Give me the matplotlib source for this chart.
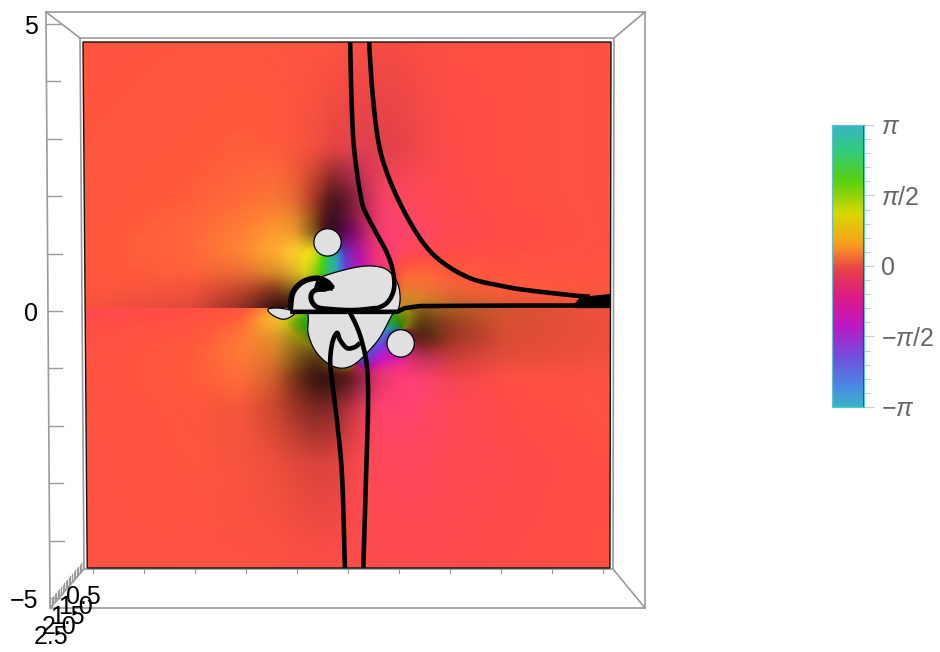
import numpy as np
import matplotlib
matplotlib.use("Agg")
import matplotlib.pyplot as plt
from matplotlib.colors import LinearSegmentedColormap
from matplotlib.patches import Polygon, Circle

plt.rcParams['font.family'] = ['Liberation Sans', 'DejaVu Sans']
plt.rcParams['mathtext.fontset'] = 'custom'
plt.rcParams['mathtext.rm'] = 'Liberation Sans'
plt.rcParams['mathtext.it'] = 'Liberation Sans:italic'

# ---------- data ----------
grid_x = [-5, -3, -2, -1.4, -1, -0.6, -0.3, 0, 0.3, 0.6, 1, 1.4, 2, 3, 5]
grid_y_upper = [5, 3, 2, 1.4, 1, 0.6, 0.3, -0.05]
grid_y_lower = [-0.06, -0.3, -0.6, -1, -1.4, -2, -3, -5]

# phase in units of pi
phase_upper = [
    [.03, .035, .035, .035, .03, .03, .03, .02, .01, .01, .01, .01, .01, .01, .02],
    [.035, .045, .055, .05, .04, .02, 0, -.02, -.03, -.03, -.02, -.01, 0, .01, .02],
    [.035, .055, .08, .10, .09, .05, -.02, -.12, -.10, -.07, -.05, -.03, -.01, .01, .02],
    [.04, .07, .11, .15, .18, .20, -.30, -.45, -.25, -.11, -.08, -.05, -.02, 0, .02],
    [.04, .07, .12, .19, .31, .42, .85, -.6, -.35, -.16, -.05, -.02, 0, .01, .02],
    [.04, .06, .09, .17, .28, .50, .90, -.6, -.4, -.2, .07, .08, .05, .03, .03],
    [.04, .04, .06, .08, .25, .5, .7, .9, -.9, -.5, .12, .10, .07, .05, .03],
    [.03, .02, .03, .03, .05, .3, .6, .9, -.9, -.4, .25, .20, .12, .07, .03],
]
phase_lower = [
    [-.02, 0, .03, .14, .30, .6, .8, .9, .9, .8, .4, .2, .12, .07, .03],
    [0, .02, .07, .25, .55, .9, .9, .9, .9, .8, .6, .15, .08, .06, .03],
    [.01, .04, .10, .18, .35, .6, .9, 1, -.9, -.85, -.5, .12, .04, .05, .03],
    [.02, .05, .10, .13, .20, .15, .3, .5, -.75, -.45, -.35, -.13, 0, .03, .03],
    [.02, .05, .08, .09, .07, .04, 0, -.05, -.13, -.15, -.13, -.09, -.03, .01, .02],
    [.02, .04, .05, .04, .03, .01, -.01, -.03, -.05, -.07, -.08, -.06, -.03, 0, .02],
    [.02, .035, .035, .03, .02, .01, 0, -.01, -.02, -.03, -.04, -.04, -.02, -.01, .01],
    [.02, .02, .02, .02, .01, .01, 0, 0, -.01, -.01, -.01, -.01, -.01, 0, .01],
]
# brightness
value_upper = [
    [1, 1, 1, 1, 1, 1, 1, .99, .97, .96, .96, .98, 1, 1, 1],
    [1, 1, 1, 1, .98, .95, .9, .9, .88, .88, .9, .95, 1, 1, 1],
    [1, 1, 1, .98, .9, .6, .25, .4, .7, .95, 1, 1, 1, 1, 1],
    [1, 1, 1, 1, .92, .4, .15, .45, .7, .95, 1, 1, 1, 1, 1],
    [1, 1, 1, 1, 1, 1, .9, .8, .85, .95, 1, 1, 1, 1, 1],
    [1, 1, .92, .85, .88, .9, .9, .9, .9, .95, 1, 1, 1, 1, 1],
    [1, .96, .75, .5, .5, .7, .9, .9, .9, .9, .9, .95, .95, 1, 1],
    [.97, .88, .55, .2, .15, .5, .7, .8, .8, .8, .75, .7, .7, .85, .97],
]
value_lower = [
    [1, 1, 1, 1, .95, .8, .8, .8, .8, .8, .7, .55, .7, .82, .95],
    [1, 1, 1, 1, .7, .8, .9, .9, .9, .9, .6, .35, .6, .85, .93],
    [1, 1, 1, .88, .6, .6, .8, .9, .9, .95, .6, .25, .6, .85, .93],
    [1, 1, 1, .85, .5, .32, .5, .7, .85, .95, .95, .75, .8, .9, .95],
    [1, 1, 1, .8, .45, .2, .2, .3, .6, .9, 1, 1, .95, 1, 1],
    [1, 1, .95, .8, .62, .5, .55, .72, .9, 1, 1, 1, 1, 1, 1],
    [1, 1, .97, .93, .88, .85, .87, .92, 1, 1, 1, 1, 1, 1, 1],
    [1, 1, 1, 1, 1, 1, 1, 1, 1, 1, 1, 1, 1, 1, 1],
]

curve_a_x = [.04, .06, .10, .17, .22, .29, .475, .74, .86, .87, .74, .51]
curve_a_y = [5.0, 4.09, 3.14, 2.51, 2.19, 1.86, 1.48, .99, .61, .29, .04, -.08]
curve_b_x = [.40, .46, .57, .74, 1.05, 1.43, 1.81, 2.32, 2.83, 3.27, 3.84, 4.41, 4.6]
curve_b_y = [5.0, 4.09, 3.14, 2.51, 1.81, 1.18, .80, .51, .38, .30, .23, .17, .16]
curve_c_x = [-1.10, .93, 1.08, 1.37, 3.27, 4.98]
curve_c_y = [-.13, -.13, -.06, -.02, -.01, -.01]
curve_d_x = [-.06, -.11, -.19, -.29, -.34, -.30, -.21, -.15, -.02, .13, .23]
curve_d_y = [-5.0, -3.33, -2.38, -1.56, -1.10, -.72, -.53, -.67, -.82, -.80, -.72]
curve_e_x = [.29, .34, .38, .36, .27, .17, .04]
curve_e_y = [-5.0, -3.33, -1.94, -1.18, -.72, -.42, -.15]
curve_f_x = [-1.10, -1.05, -.86, -.59, -.40, -.29]
curve_f_y = [-.10, .23, .44, .51, .44, .32]
curve_g_x = [-.29, -.48, -.67, -.70, -.59, -.34, .10, .55]
curve_g_y = [.32, .32, .25, .10, -.04, -.08, -.10, -.06]
wedge_x = [4.32, 4.41, 4.98, 4.98, 4.32]
wedge_y = [.04, .15, .21, -.06, -.06]
hook_x = [-.59, -.40, -.25, -.44, -.67]
hook_y = [.51, .48, .32, .25, .25]

blob_x = [-1.10, -1.05, -.86, -.59, -.21, .17, .48, .74, .93, .99, .95, .86, .61, .36, .10,
          -.15, -.40, -.63, -.76, -.78]
blob_y = [-.10, .23, .44, .51, .63, .72, .74, .67, .44, .15, -.10, -.15, -.61, -.91, -1.14,
          -1.20, -1.10, -.86, -.53, -.15]
sliver_x = [-1.52, -1.44, -1.25, -1.10, -1.01, -1.29]
sliver_y = [-.08, -.19, -.27, -.23, -.13, -.06]
hole_x = [-.39, 1.0]
hole_y = [1.19, -.73]
hole_r = [.26, .26]

surface_x = [-5.04, 5.0, 4.98, -4.96]
surface_y = [5.0, 5.0, -5.0, -5.0]

phase_stops = [-1, -.85, -.65, -.42, -.22, -.08, 0, .05, .15, .25, .37, .6, .82, 1]
phase_colors = ['#38B8D0', '#4A88F0', '#8040F0', '#D818C8', '#FF3684', '#FF4270', '#FF4D48',
                '#FF5A3C', '#FF9A30', '#FFC030', '#F8E818', '#50E010', '#30D088', '#38B8D0']
bar_stops = [-1, -.845, -.655, -.417, -.226, -.03, .155, .37, .6, .82, 1]
bar_colors = ['#3AB4C8', '#4E85E5', '#7050E0', '#BE18C0', '#DE1A88', '#E84048', '#F8A020',
              '#D8D800', '#58D010', '#30CC80', '#3AB4C8']
bar_ticks = [-1, -.5, 0, .5, 1]
bar_labels = ['\u2212$\\pi$', '\u2212$\\pi$/2', '0', '$\\pi$/2', '$\\pi$']
bar_minor = [k / 10 for k in range(-10, 11)]

axis_ticks = [5, 4, 3, 2, 1, 0, -1, -2, -3, -4, -5]
axis_labels = {5: '5', 0: '0', -5: '\u22125'}
depth_labels = ['0.5', '1.0', '1.5', '2.0', '2.5']

# ---------- helpers ----------
W, H = 940, 652
fig = plt.figure(figsize=(W / 100, H / 100), dpi=100)
fig.patch.set_facecolor('white')


def px_axes(l, t, r, b, **kw):
    return fig.add_axes([l / W, 1 - b / H, (r - l) / W, (b - t) / H], **kw)


phase_map = LinearSegmentedColormap.from_list(
    'field', [((s + 1) / 2, c) for s, c in zip(phase_stops, phase_colors)], N=1024)
bar_map = LinearSegmentedColormap.from_list(
    'bar', [((s + 1) / 2, c) for s, c in zip(bar_stops, bar_colors)], N=1024)


def sample(M, xn, yn, xf, yf):
    M = np.asarray(M)
    ix = np.interp(xf, xn, np.arange(len(xn)))
    iy = np.interp(-np.asarray(yf), -np.asarray(yn), np.arange(len(yn)))
    x0 = np.clip(np.floor(ix).astype(int), 0, len(xn) - 2)
    y0 = np.clip(np.floor(iy).astype(int), 0, len(yn) - 2)
    fx = (ix - x0)[None, :]
    fy = (iy - y0)[:, None]
    a = M[np.ix_(y0, x0)]
    b = M[np.ix_(y0, x0 + 1)]
    c = M[np.ix_(y0 + 1, x0)]
    d = M[np.ix_(y0 + 1, x0 + 1)]
    return a * (1 - fx) * (1 - fy) + b * fx * (1 - fy) + c * (1 - fx) * fy + d * fx * fy


def blur(M, sigma=5.0):
    r = int(3 * sigma)
    k = np.exp(-0.5 * (np.arange(-r, r + 1) / sigma) ** 2)
    k /= k.sum()
    P = np.pad(M, r, mode='edge')
    P = np.apply_along_axis(lambda v: np.convolve(v, k, mode='same'), 0, P)
    P = np.apply_along_axis(lambda v: np.convolve(v, k, mode='same'), 1, P)
    return P[r:-r, r:-r]


def rounded(xs, ys, closed=False, n=14):
    """Draw the read-off outline as a rounded path (Catmull-Rom through the points)."""
    p = np.column_stack([xs, ys]).astype(float)
    if closed:
        p = np.vstack([p[-1], p, p[0], p[1]])
    else:
        p = np.vstack([2 * p[0] - p[1], p, 2 * p[-1] - p[-2]])
    out = []
    t = np.linspace(0, 1, n, endpoint=False)[:, None]
    for i in range(1, len(p) - 2):
        a, b, c, d = p[i - 1], p[i], p[i + 1], p[i + 2]
        out.append(0.5 * (2 * b + (c - a) * t + (2 * a - 5 * b + 4 * c - d) * t ** 2
                          + (3 * b - a - 3 * c + d) * t ** 3))
    out.append(p[-2][None, :])
    return np.vstack(out)


xf = np.linspace(-5.04, 5.0, 528)
yf = np.linspace(5.0, -5.0, 526)
parts = []
for ys, ph, val, mask in [
        (grid_y_upper, phase_upper, value_upper, yf >= -0.055),
        (grid_y_lower, phase_lower, value_lower, yf < -0.055)]:
    z = np.exp(1j * np.pi * np.asarray(ph, float))
    y_sel = yf[mask]
    zf = sample(z, grid_x, ys, xf, y_sel)
    vf = sample(np.asarray(val, float), grid_x, ys, xf, y_sel)
    zf = blur(zf.real) + 1j * blur(zf.imag)
    vf = blur(vf)
    parts.append((np.angle(zf) / np.pi, vf))
ang = np.vstack([parts[0][0], parts[1][0]])
val = np.vstack([parts[0][1], parts[1][1]])
rgb = phase_map((ang + 1) / 2)[..., :3] * val[..., None]

# ---------- box (behind the surface) ----------
box = px_axes(0, 0, W, H, zorder=0)
box.set_xlim(0, W)
box.set_ylim(H, 0)
box.axis('off')
grey = '#9a9a9a'
box.plot([46, 645, 645, 50, 46], [12, 12, 608, 608, 12], color=grey, lw=1.2)
box.plot([80, 614, 613, 84, 80], [38, 38, 569, 569, 38], color=grey, lw=1.2)
for x0, y0, x1, y1 in [(46, 12, 80, 38), (645, 12, 614, 38), (645, 608, 613, 569), (50, 608, 84, 569)]:
    box.plot([x0, x1], [y0, y1], color=grey, lw=1.2)

for v in axis_ticks:
    py = 311 - v * 57.4
    xl = 48 - v * 0.4
    box.plot([xl, xl + 14], [py, py], color=grey, lw=1.0)
    if v in axis_labels:
        box.text(38, py + 3, axis_labels[v], ha='right', va='center', fontsize=18, color='black')
for px in np.arange(93, 604, 51):
    box.plot([px, px], [569, 573], color=grey, lw=0.8)
for f in np.linspace(0, 1, 22):
    px = 50 + f * 33
    py = 608 - f * 39
    box.plot([px, px], [py, py - 8], color=grey, lw=0.9)
for i, lab in enumerate(depth_labels):
    box.text(83 - 8 * i, 597 + 10 * i, lab, ha='center', va='center', fontsize=18, color='black')

# ---------- surface ----------
ax = px_axes(83, 42, 611, 568, zorder=2)
ax.set_xlim(-5.04, 5.0)
ax.set_ylim(-5, 5)
ax.axis('off')
im = ax.imshow(rgb, extent=[-5.04, 5.0, -5, 5], aspect='auto', interpolation='bilinear', zorder=1)
outline = Polygon(np.column_stack([surface_x, surface_y]), closed=True, fc='none', ec='#111111',
                  lw=1.0, zorder=6, clip_on=False)
ax.add_patch(outline)
im.set_clip_path(outline)

hole_c = '#E0E0E0'
ax.add_patch(Polygon(rounded(blob_x, blob_y, closed=True), closed=True, fc=hole_c, ec='black', lw=0.9, zorder=3))
ax.add_patch(Polygon(rounded(sliver_x, sliver_y, closed=True), closed=True, fc=hole_c, ec='black', lw=0.9, zorder=3))
for cx, cy, r in zip(hole_x, hole_y, hole_r):
    ax.add_patch(Circle((cx, cy), r, fc=hole_c, ec='black', lw=0.9, zorder=3))

line_kw = dict(color='black', solid_capstyle='butt', solid_joinstyle='round', zorder=4)
for xs, ys, lw in [(curve_a_x, curve_a_y, 3.3), (curve_b_x, curve_b_y, 3.3), (curve_d_x, curve_d_y, 3.3),
                   (curve_e_x, curve_e_y, 3.3), (curve_f_x, curve_f_y, 4.0), (curve_g_x, curve_g_y, 3.6)]:
    s = rounded(xs, ys)
    ax.plot(s[:, 0], s[:, 1], lw=lw, **line_kw)
ax.plot(curve_c_x, curve_c_y, lw=3.3, **line_kw)
ax.fill(wedge_x, wedge_y, color='black', lw=0, zorder=4)
ax.fill(hook_x, hook_y, color='black', lw=0, zorder=4)

# ---------- colour bar ----------
cb = px_axes(832, 125, 864, 407, zorder=2)
grad = np.linspace(1, -1, 512)[:, None]
cb.imshow(grad, extent=[0, 1, -1, 1], aspect='auto', cmap=bar_map, vmin=-1, vmax=1, zorder=1)
edge_rgb = bar_map((grad + 1) / 2)[..., :3] * 0.5
cb.imshow(edge_rgb, extent=[0.96, 1, -1, 1], aspect='auto', zorder=2)
cb.set_xlim(0, 1)
cb.set_ylim(-1, 1)
cb.set_xticks([])
cb.yaxis.tick_right()
cb.set_yticks(bar_ticks)
cb.set_yticklabels(bar_labels, fontsize=18, color='#666666')
cb.set_yticks(bar_minor, minor=True)
cb.tick_params(axis='y', which='major', length=7, width=0.8, color='#cccccc', pad=5)
cb.tick_params(axis='y', which='minor', length=4.5, width=0.8, color='#cccccc')
for s in cb.spines.values():
    s.set_color('#5CC4CC')
    s.set_linewidth(0.9)

fig.savefig('out.png', dpi=100)
